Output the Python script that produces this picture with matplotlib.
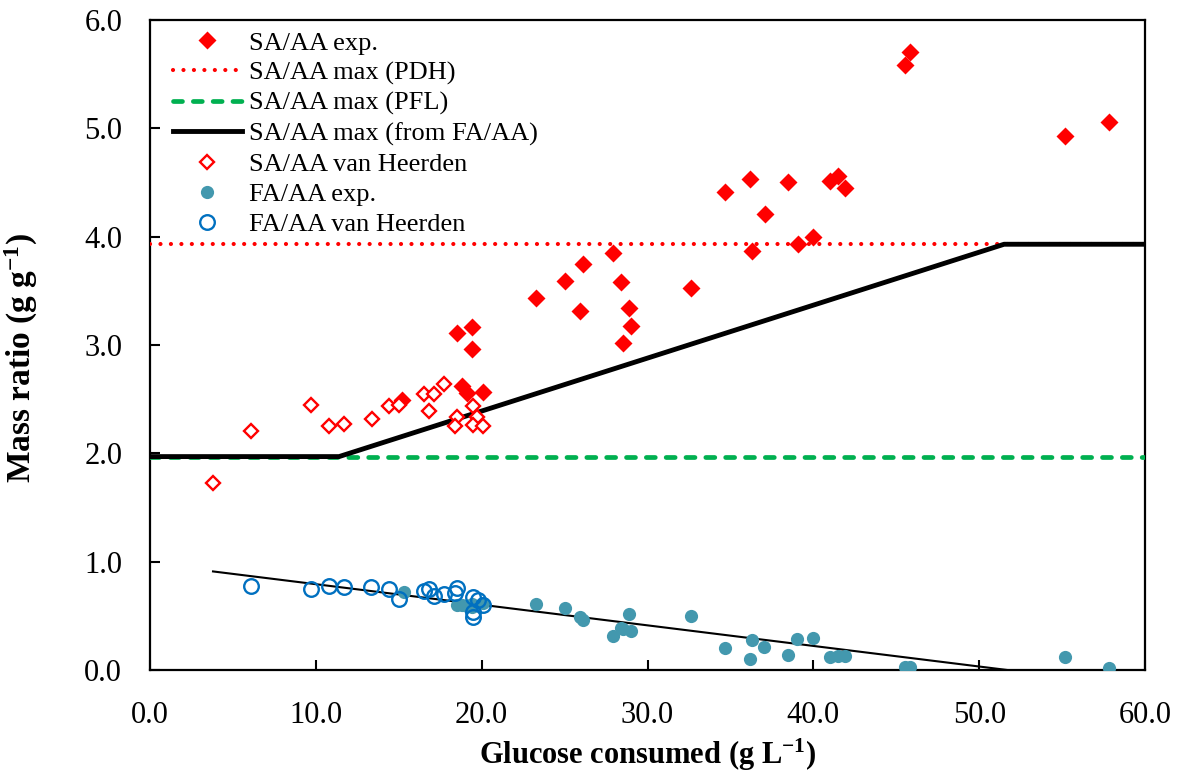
import numpy as np
import matplotlib
matplotlib.use('Agg')
import matplotlib.pyplot as plt

plt.rcParams['font.family'] = ['Liberation Serif', 'DejaVu Serif']
plt.rcParams['mathtext.default'] = 'regular'

# SA/AA experimental
sa_exp_x = [15.2, 18.5, 19.4, 19.4, 18.8, 19.1, 20.1, 23.3, 25.0, 26.1, 25.9, 27.9, 28.4, 28.9,
            29.0, 28.5, 32.6, 34.7, 36.2, 36.3, 37.1, 38.5, 39.1, 40.0, 41.0, 41.5, 41.9,
            45.5, 45.8, 55.2, 57.8]
sa_exp_y = [2.49, 3.11, 3.17, 2.96, 2.62, 2.56, 2.57, 3.43, 3.59, 3.75, 3.31, 3.85, 3.58, 3.34,
            3.18, 3.02, 3.53, 4.41, 4.53, 3.87, 4.21, 4.50, 3.93, 4.00, 4.51, 4.56, 4.45,
            5.58, 5.70, 4.93, 5.06]

# SA/AA van Heerden
sa_vh_x = [3.8, 6.1, 9.7, 10.8, 11.7, 13.4, 14.4, 15.0, 16.5, 17.1, 17.7, 16.8, 18.5, 18.4,
           19.5, 19.7, 19.5, 20.1]
sa_vh_y = [1.73, 2.21, 2.45, 2.25, 2.27, 2.32, 2.44, 2.45, 2.55, 2.55, 2.64, 2.39, 2.34, 2.25,
           2.44, 2.34, 2.26, 2.25]

# FA/AA experimental
fa_exp_x = [15.3, 18.5, 18.8, 19.1, 19.4, 19.4, 20.1, 23.3, 25.0, 25.9, 26.1, 27.9, 28.4, 29.0,
            28.9, 28.5, 32.6, 34.7, 36.2, 36.3, 37.0, 38.5, 39.0, 40.0, 41.0, 41.5, 41.9,
            45.5, 45.8, 55.2, 57.8]
fa_exp_y = [0.72, 0.60, 0.60, 0.59, 0.58, 0.61, 0.62, 0.61, 0.57, 0.49, 0.46, 0.31, 0.39, 0.36,
            0.52, 0.38, 0.50, 0.20, 0.10, 0.28, 0.21, 0.14, 0.29, 0.30, 0.12, 0.13, 0.13,
            0.03, 0.03, 0.12, 0.02]

# FA/AA van Heerden
fa_vh_x = [6.1, 9.7, 10.8, 11.7, 13.3, 14.4, 15.0, 16.5, 16.8, 17.1, 17.7, 18.5, 18.4, 19.5,
           19.8, 20.1, 19.5, 19.5]
fa_vh_y = [0.78, 0.75, 0.78, 0.77, 0.77, 0.75, 0.66, 0.73, 0.75, 0.68, 0.70, 0.76, 0.71, 0.67,
           0.65, 0.60, 0.54, 0.49]

# model lines
pdh_x = [0, 60]
pdh_y = [3.93, 3.93]
pfl_x = [0, 60]
pfl_y = [1.97, 1.97]
fa_max_x = [0, 11.4, 51.5, 60]
fa_max_y = [1.97, 1.97, 3.93, 3.93]
fit_x = [3.8, 51.7]
fit_y = [0.91, 0.0]

fig = plt.figure(figsize=(11.83, 7.78), dpi=100)
ax = fig.add_axes([0.1268, 0.1388, 0.8411, 0.8355])

ax.plot(fit_x, fit_y, color='black', lw=1.5, zorder=2)
ax.plot(sa_exp_x, sa_exp_y, 'D', color='#FF0000', ms=9.5, mec='none', label='SA/AA exp.', zorder=4)
ax.plot(pdh_x, pdh_y, color='#FF0000', lw=3.0, linestyle=(0, (0.01, 2.5)),
        dash_capstyle='round', label='SA/AA max (PDH)', zorder=3)
ax.plot(pfl_x, pfl_y, color='#00B050', lw=3.4, linestyle=(0, (1.9, 2.3)),
        dash_capstyle='round', label='SA/AA max (PFL)', zorder=3)
ax.plot(fa_max_x, fa_max_y, color='black', lw=3.5, label='SA/AA max (from FA/AA)', zorder=3)
ax.plot(sa_vh_x, sa_vh_y, 'D', mfc='white', mec='#FF0000', mew=1.7, ms=7,
        label='SA/AA van Heerden', zorder=4)
ax.plot(fa_exp_x, fa_exp_y, 'o', color='#4398AE', ms=9.5, mec='none', label='FA/AA exp.', zorder=4)
ax.plot(fa_vh_x, fa_vh_y, 'o', mfc='none', mec='#0070C0', mew=1.7, ms=10.5,
        label='FA/AA van Heerden', zorder=5)

ax.set_xlim(0, 60)
ax.set_ylim(0, 6)
ax.set_xticks(np.arange(0, 61, 10))
ax.set_yticks(np.arange(0, 6.1, 1))
ax.xaxis.set_major_formatter(matplotlib.ticker.FormatStrFormatter('%.1f'))
ax.yaxis.set_major_formatter(matplotlib.ticker.FormatStrFormatter('%.1f'))
ax.tick_params(direction='in', length=7, width=1.5, labelsize=22)
ax.tick_params(axis='y', pad=20)
ax.tick_params(axis='x', pad=22)
for s in ax.spines.values():
    s.set_linewidth(1.6)

ax.set_xlabel('Glucose consumed (g L$^{-1}$)', fontsize=22, fontweight='bold', labelpad=5)
ax.set_ylabel('Mass ratio (g g$^{-1}$)', fontsize=24, fontweight='bold')
ax.yaxis.set_label_coords(-0.111, 0.48)

ax.legend(loc='upper left', frameon=False, fontsize=19, handlelength=2.6, labelspacing=0.25,
          handletextpad=0.3, borderaxespad=0, borderpad=0, bbox_to_anchor=(0.023, 0.983))

fig.savefig('out.png', dpi=100)
